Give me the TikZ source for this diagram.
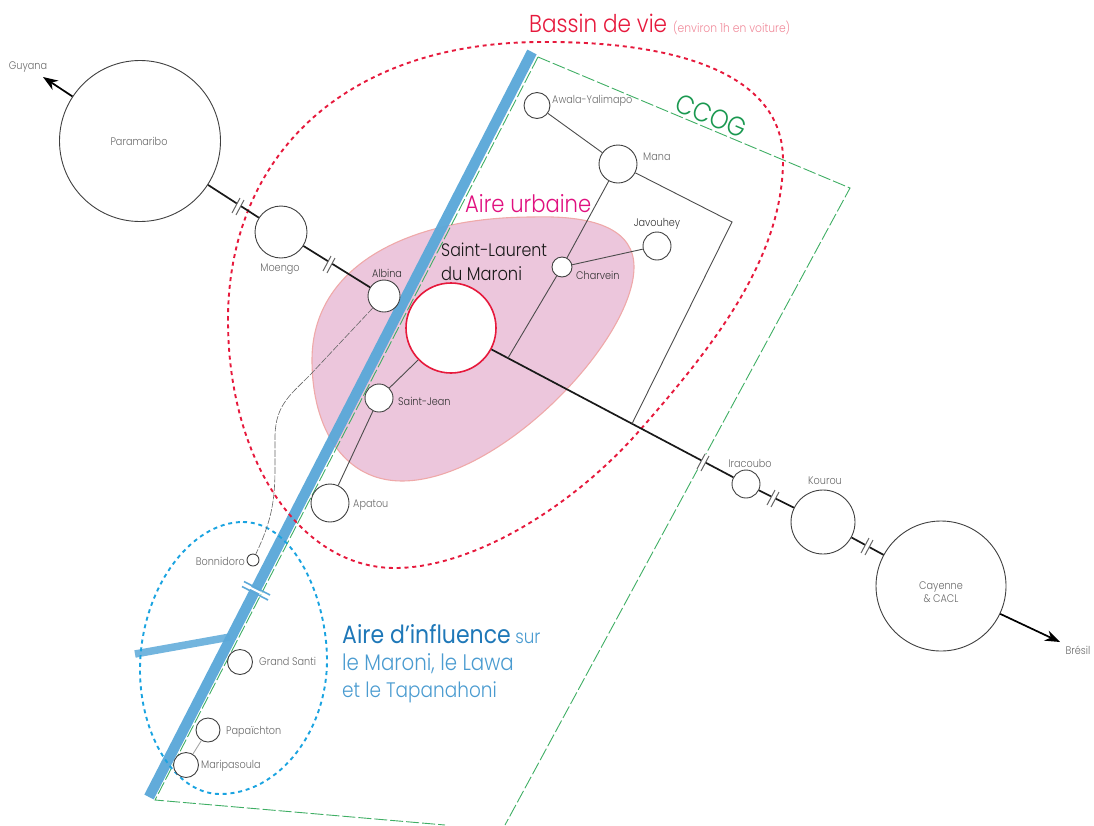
\documentclass[tikz,border=0pt]{standalone}
\usepackage{fontspec}
\setmainfont{Poppins Light}[FakeStretch=0.88]
\newfontfamily\medfont{Poppins}[FakeStretch=0.88]
\usetikzlibrary{arrows.meta,calc}
\definecolor{river}{HTML}{5BA8D8}
\definecolor{ccog}{HTML}{3FAE64}
\definecolor{ccogtxt}{HTML}{1A9850}
\definecolor{blobfill}{HTML}{ECC6DC}
\definecolor{blobline}{HTML}{EFA9A9}
\definecolor{redd}{HTML}{E6193C}
\definecolor{pinktxt}{HTML}{F08A9A}
\definecolor{magent}{HTML}{E0107F}
\definecolor{bluedot}{HTML}{1AA3E0}
\definecolor{bluedark}{HTML}{1F78B8}
\definecolor{bluelight}{HTML}{4A9BD0}
\definecolor{lab}{HTML}{6A6A6A}
\tikzset{
  town/.style={circle,draw=black!75,line width=.9pt,fill=white,inner sep=0pt,minimum size=#1*2pt},
  main/.style={draw=black!90,line width=1.7pt},
  minor/.style={draw=black!70,line width=.9pt},
  lbl/.style={font=\fontsize{11}{12}\selectfont,text=lab,inner sep=0pt},
  lbld/.style={font=\fontsize{11}{12}\selectfont,text=black!80,inner sep=0pt},
  dots/.style={line width=1.9pt,dash pattern=on 4pt off 3.8pt},
  ccogline/.style={draw=ccog,line width=.9pt,dash pattern=on 13pt off 3pt},
  arr/.style={draw=black,line width=1.7pt,-{Stealth[length=15pt,width=11pt]}},
  big/.style={anchor=base west,inner sep=0pt},
}
\newcommand{\ticks}[2]{%
  \fill[white] (#1-6,#2+8) -- (#1+2,#2-7) -- (#1+6,#2-5) -- (#1-2,#2+10) -- cycle;
  \draw[draw=black!60,line width=1pt] (#1-6,#2+8) -- (#1+2,#2-7) (#1-2,#2+10) -- (#1+6,#2-5);}
\begin{document}
\begin{tikzpicture}[x=1pt,y=-1pt]
\useasboundingbox (0,0) rectangle (1094,825);
\clip (0,0) rectangle (1094,825);
% urban area
\draw[fill=blobfill,draw=blobline,line width=1.1pt]
 (533,217) .. controls (600,215) and (634,232) .. (634,267)
 .. controls (634,340) and (500,481) .. (402,481)
 .. controls (345,481) and (312,430) .. (312,360)
 .. controls (312,265) and (410,217) .. (533,217) -- cycle;
% CCOG
\draw[ccogline] (538,57) -- (850,188) -- (505,825);
\draw[ccogline] (538,57) -- (155,800) -- (445,825);
% river
\draw[river,line width=10.5pt,opacity=.96] (532,52) -- (149,797);
\draw[river,line width=7.5pt,opacity=.85] (135,654) -- (230,637);
\draw[white,line width=2pt] (243,584) -- (269,597);
\draw[river,line width=1.6pt] (244,581.5) -- (270,595) (242,586.5) -- (268,600);
% red and blue perimeters
\draw[redd,dots] (228,320) .. controls (228,160) and (340,43) .. (540,42)
 .. controls (680,41) and (783,75) .. (783,160)
 .. controls (783,260) and (710,350) .. (640,430)
 .. controls (570,510) and (470,568) .. (395,568)
 .. controls (300,568) and (228,460) .. (228,320) -- cycle;
\draw[bluedot,dots] (243,522) .. controls (295,522) and (327,600) .. (327,660)
 .. controls (327,730) and (280,794) .. (220,794)
 .. controls (175,794) and (140,735) .. (140,670)
 .. controls (140,590) and (190,522) .. (243,522) -- cycle;
% towns
\node[town=80.5] (par) at (140,141) {};
\node[town=26] (moe) at (281,232) {};
\node[town=16] (alb) at (384,296) {};
\node[town=45,draw=redd,line width=1.6pt] (slm) at (451,328) {};
\node[town=14] (stj) at (379,398) {};
\node[town=19] (apa) at (330,503) {};
\node[town=13] (awa) at (537,105.5) {};
\node[town=19] (man) at (618,164) {};
\node[town=10] (cha) at (562,267) {};
\node[town=14] (jav) at (657,246) {};
\node[town=14] (ira) at (746,484) {};
\node[town=32] (kou) at (823,522) {};
\node[town=65] (cay) at (941,586) {};
\node[town=6] (bon) at (253,560) {};
\node[town=12.5] (gra) at (240,662) {};
\node[town=12] (pap) at (208,730) {};
\node[town=12.5] (mar) at (186,765) {};
\coordinate (j1) at ($(slm)!.193!(ira)$);
\coordinate (j2) at ($(slm)!.6136!(ira)$);
\coordinate (bend) at (732,222);
\coordinate (guy) at (43,77);
\coordinate (bre) at (1060,642);
% connectors
\draw[main] (par) -- (moe);
\draw[main] (moe) -- (alb);
\draw[main] (slm) -- (ira);
\draw[main] (ira) -- (kou);
\draw[main] (kou) -- (cay);
\draw[arr] (par) -- (guy);
\draw[arr] (cay) -- (bre);
\draw[minor] (awa) -- (man);
\draw[minor] (man) -- (bend) -- (j2);
\draw[minor] (man) -- (cha);
\draw[minor] (cha) -- (j1);
\draw[minor] (cha) -- (jav);
\draw[minor] (slm) -- (stj);
\draw[minor] (stj) -- (apa);
\draw[draw=black!35,line width=.9pt] (pap) -- (mar);
\draw[draw=black!60,line width=.6pt,dash pattern=on 7pt off 1.5pt] (alb) -- (310,375) .. controls (290,395) and (276,405) .. (275,435) -- (275,467) .. controls (275,500) and (272,520) .. (bon);
\ticks{238}{205}
\ticks{329}{263}
\ticks{703}{461}
\ticks{773}{497}
\ticks{867}{545}
% labels
\node[lbl] at (28,67) {Guyana};
\node[lbl] at (139,141) {Paramaribo};
\node[lbl] at (280,269) {Moengo};
\node[lbld] at (387,273) {Albina};
\node[lbl,anchor=west] at (552,101) {Awala-Yalimapo};
\node[lbl,anchor=west] at (643,157) {Mana};
\node[lbld] at (657,224) {Javouhey};
\node[lbld,anchor=west] at (576,275) {Charvein};
\node[lbld,anchor=west] at (398,401) {Saint-Jean};
\node[lbl,anchor=west] at (353,505) {Apatou};
\node[lbl] at (750,463) {Iracoubo};
\node[lbl] at (825,481) {Kourou};
\node[lbl,align=center,font=\fontsize{11}{13}\selectfont] at (941,592) {Cayenne\\\& CACL};
\node[lbl] at (1078,650) {Brésil};
\node[lbl,anchor=east] at (245,561) {Bonnidoro};
\node[lbl,anchor=west] at (259,661) {Grand Santi};
\node[lbl,anchor=west] at (226,732) {Papaïchton};
\node[lbl,anchor=west] at (201,766) {Maripasoula};
\node[big,text=redd,font=\fontsize{24.5}{26}\selectfont] at (529,32) {Bassin de vie};
\node[big,text=pinktxt,font=\fontsize{12.2}{14}\selectfont] at (673,32) {(environ 1h en voiture)};
\node[rotate=-23,text=ccogtxt,inner sep=0pt,font=\fontsize{27}{28}\selectfont] at (711,116) {CCOG};
\node[big,text=magent,font=\fontsize{24}{25}\selectfont] at (465,212) {Aire urbaine};
\node[big,text=black!90,font=\fontsize{18}{20}\selectfont] at (441,256) {Saint-Laurent};
\node[big,text=black!90,font=\fontsize{18.5}{20}\selectfont] at (441,280) {du Maroni};
\node[big,text=bluelight,font=\fontsize{19}{27}\selectfont] at (342,643) {{\fontsize{25}{27}\selectfont\medfont\color{bluedark}Aire d’influence} sur};
\node[big,text=bluelight,font=\fontsize{22.5}{27}\selectfont] at (342,670) {le Maroni, le Lawa};
\node[big,text=bluelight,font=\fontsize{21}{27}\selectfont] at (342,697) {et le Tapanahoni};
\end{tikzpicture}
\end{document}
